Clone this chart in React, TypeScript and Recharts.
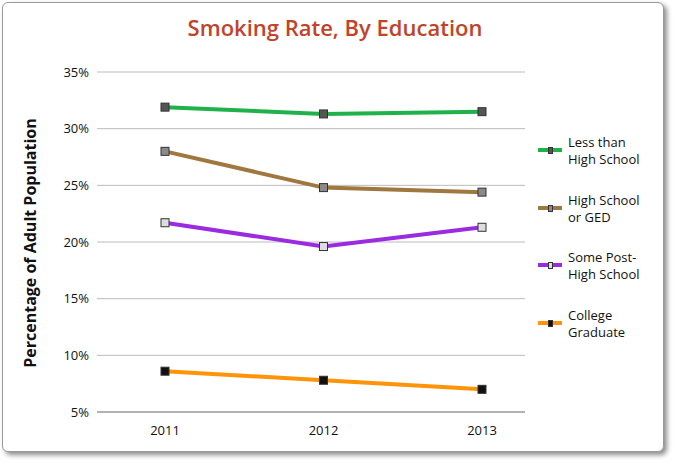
import React from "react";
import { LineChart, Line, XAxis, YAxis, CartesianGrid } from "recharts";

const years = ["2011", "2012", "2013"];
const lessHS = [31.9, 31.3, 31.5];
const hsGED = [28.0, 24.8, 24.4];
const somePost = [21.7, 19.6, 21.3];
const college = [8.6, 7.8, 7.0];
const yTicks = [5, 10, 15, 20, 25, 30, 35];

const data = years.map((y, i) => ({ year: y, a: lessHS[i], b: hsGED[i], c: somePost[i], d: college[i] }));

const series = [
  { key: "a", color: "#1fb24a", fill: "#555555", label: ["Less than", "High School"] },
  { key: "b", color: "#a0773f", fill: "#8a8a8a", label: ["High School", "or GED"] },
  { key: "c", color: "#9a2be0", fill: "#dddddd", label: ["Some Post-", "High School"] },
  { key: "d", color: "#ff9408", fill: "#111111", label: ["College", "Graduate"] },
];

const font = "'Open Sans', 'DejaVu Sans', sans-serif";

const mkDot = (fill: string) => (p: any) => (
  <rect key={p.index} x={p.cx - 4} y={p.cy - 4} width={8} height={8} fill={fill} stroke="#333" strokeWidth={1} />
);

export default function App() {
  return (
    <div style={{ position: "absolute", left: 0, top: 0, width: 676, height: 466, background: "#fff", fontFamily: font }}>
      <div style={{ position: "absolute", left: 2, top: 2, width: 660, height: 448, border: "1px solid #999", borderRadius: 6, boxShadow: "3px 3px 5px rgba(0,0,0,0.45)", background: "#fff" }} />
      <div style={{ position: "absolute", left: 0, width: 670, top: 12, textAlign: "center", color: "#c0432a", fontSize: 22, fontWeight: 600 }}>
        Smoking Rate, By Education
      </div>
      <div style={{ position: "absolute", left: 30, top: 243, transform: "translate(-50%,-50%) rotate(-90deg)", whiteSpace: "nowrap", fontSize: 16, fontWeight: 700, color: "#111" }}>
        Percentage of Adult Population
      </div>
      <div style={{ position: "absolute", left: 0, top: 0 }}>
        <LineChart width={676} height={466} data={data} margin={{ top: 72, right: 151, bottom: 24, left: 57 }}>
          <CartesianGrid vertical={false} stroke="#bbbbbb" />
          <XAxis dataKey="year" padding={{ left: 68, right: 43 }} height={30} axisLine={{ stroke: "#888" }} tickLine={false}
            tick={{ fill: "#111", fontSize: 13, fontFamily: font }} tickMargin={8} />
          <YAxis domain={[5, 35]} ticks={yTicks} width={40} axisLine={false} tickLine={false}
            tickFormatter={(v: number) => `${v}%`} tick={{ fill: "#111", fontSize: 13, fontFamily: font }} />
          {series.map((s) => (
            <Line key={s.key} dataKey={s.key} stroke={s.color} strokeWidth={4} isAnimationActive={false} dot={mkDot(s.fill)} activeDot={false} />
          ))}
        </LineChart>
      </div>
      {series.map((s, i) => (
        <div key={s.key} style={{ position: "absolute", left: 538, top: 134 + i * 57.5, display: "flex", alignItems: "flex-start" }}>
          <div style={{ position: "relative", width: 24, height: 32 }}>
            <div style={{ position: "absolute", left: 0, top: 14, width: 24, height: 4, background: s.color }} />
            <div style={{ position: "absolute", left: 10, top: 13, width: 3, height: 5, background: s.fill, border: "0.5px solid #333" }} />
          </div>
          <div style={{ marginLeft: 6, fontSize: 13, lineHeight: "17px", color: "#111" }}>
            {s.label[0]}<br />{s.label[1]}
          </div>
        </div>
      ))}
    </div>
  );
}
